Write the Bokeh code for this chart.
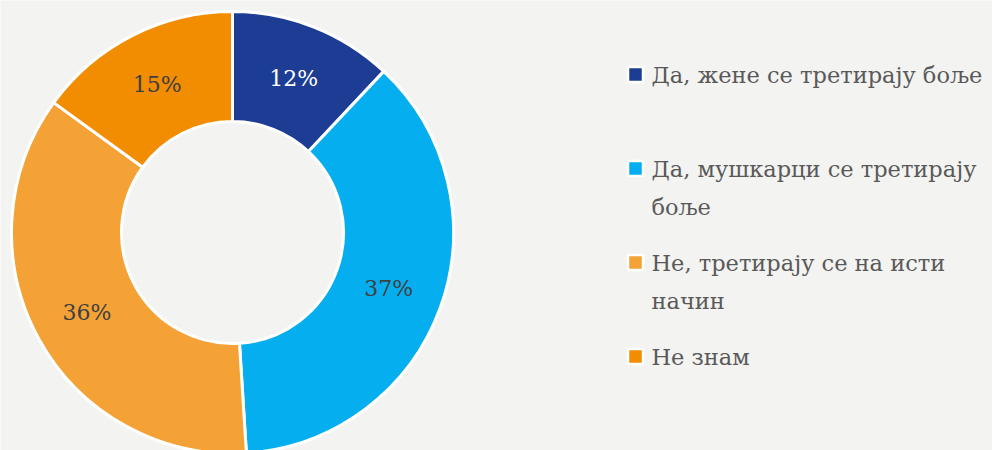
import math
from bokeh.plotting import figure
from bokeh.models import Range1d, ColumnDataSource
from bokeh.core.properties import value
from bokeh.embed import file_html
from bokeh.resources import INLINE

# ---- data ----
categories = ["Да, жене се третирају боље",
              "Да, мушкарци се третирају\nбоље",
              "Не, третирају се на исти\nначин",
              "Не знам"]
shares = [12, 37, 36, 15]
colors = ["#1c3d93", "#05aeee", "#f4a236", "#f28c00"]
label_colors = ["#ffffff", "#404040", "#404040", "#404040"]

W, H = 992, 450
BG = "#f3f3f1"
FONT = "'DejaVu Serif', serif"

p = figure(width=W, height=H, output_backend="svg", toolbar_location=None,
           x_range=Range1d(0, W), y_range=Range1d(0, H),
           min_border=0)
p.axis.visible = False
p.grid.visible = False
p.outline_line_color = None
p.background_fill_color = BG
p.border_fill_color = BG

# image pixel -> data y
def py(y):
    return H - y

cx, cy = 232, py(232)
r_out, r_in = 221, 111

total = sum(shares)
starts, ends, lx, ly, texts = [], [], [], [], []
acc = 0.0
for s in shares:
    a0 = math.pi / 2 - 2 * math.pi * acc / total
    a1 = math.pi / 2 - 2 * math.pi * (acc + s) / total
    starts.append(a0)
    ends.append(a1)
    mid = (a0 + a1) / 2
    rm = (r_in + r_out) / 2
    lx.append(cx + rm * math.cos(mid))
    ly.append(cy + rm * math.sin(mid))
    texts.append(f"{s}%")
    acc += s

src = ColumnDataSource(dict(start=starts, end=ends, color=colors,
                            lx=lx, ly=ly, txt=texts, tc=label_colors))
p.annular_wedge(x=cx, y=cy, inner_radius=r_in, outer_radius=r_out,
                start_angle="start", end_angle="end", direction="clock",
                fill_color="color", line_color="white", line_width=3,
                source=src)
p.text(x="lx", y="ly", text="txt", text_color="tc", source=src,
       text_font=value(FONT), text_font_size="22px",
       text_align="center", text_baseline="middle")

# ---- legend ----
leg_x_marker = 635
leg_x_text = 651
first_center = 74
item_step = 94
line_step = 38

mx, my, mc, tx, ty, tt = [], [], [], [], [], []
for i, (lab, col) in enumerate(zip(categories, colors)):
    c = first_center + i * item_step
    mx.append(leg_x_marker)
    my.append(py(c))
    mc.append(col)
    for j, line in enumerate(lab.split("\n")):
        tx.append(leg_x_text)
        ty.append(py(c + j * line_step))
        tt.append(line)

p.rect(x=mx, y=my, width=15, height=15, fill_color=mc,
       line_color="white", line_width=2.5)
p.text(x=tx, y=ty, text=tt, text_color="#595959",
       text_font=value(FONT), text_font_size="22.5px",
       text_align="left", text_baseline="middle")

open("out.html", "w").write(file_html(p, INLINE))
